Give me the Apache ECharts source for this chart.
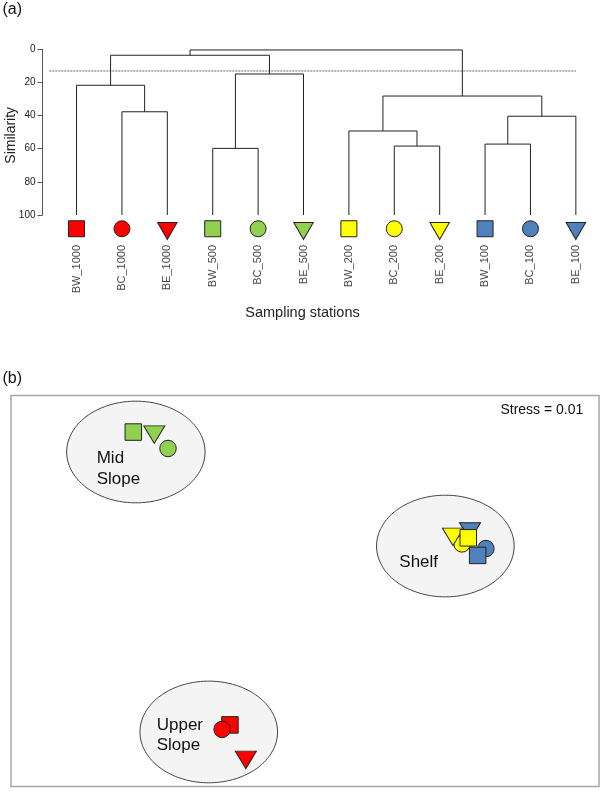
<!DOCTYPE html>
<html>
<head>
<meta charset="utf-8">
<script src="https://cdn.jsdelivr.net/npm/echarts@6/dist/echarts.min.js"></script>
<style>
html,body{margin:0;padding:0;background:#fff;}
#chart{width:603px;height:791px;}
</style>
</head>
<body>
<div id="chart"></div>
<script>
// ---------- Panel (a): dendrogram data ----------
const leafNames = ['BW_1000','BC_1000','BE_1000','BW_500','BC_500','BE_500','BW_200','BC_200','BE_200','BW_100','BC_100','BE_100'];
// linkage: node ids 0..11 are leaves, 12.. are merges in order
const mergeLeft  = [1, 0, 3, 14, 13, 7, 6, 9, 19, 18, 16];
const mergeRight = [2, 12, 4, 5, 15, 8, 17, 10, 11, 20, 21];
const mergeSimilarity = [37.7, 21.7, 59.8, 14.9, 3.6, 58.4, 49.3, 57.2, 40.4, 28.2, 0.4];
const cutSimilarity = 13.1;
const similarityTicks = [0, 20, 40, 60, 80, 100];

// ---------- Panel (b): nMDS data ----------
const mdsNames = ['BW_500','BE_500','BC_500','BW_1000','BC_1000','BE_1000','BE_100','BC_100','BC_200','BE_200','BW_200','BW_100'];
const mdsX = [-0.876,-0.769,-0.699,-0.383,-0.423,-0.302,0.842,0.923,0.801,0.755,0.833,0.881];
const mdsY = [0.813,0.800,0.729,-0.685,-0.708,-0.864,0.304,0.217,0.241,0.277,0.272,0.182];
const groupNames = ['Mid\nSlope','Shelf','Upper\nSlope'];
const groupCx = [-0.863, 0.716, -0.491];
const groupCy = [0.711, 0.230, -0.721];
const groupRx = [0.353, 0.351, 0.351];
const groupRy = [0.260, 0.260, 0.260];
const stressText = 'Stress = 0.01';

// ---------- styling helpers ----------
const FONT = "'Liberation Sans', Arial, Helvetica, sans-serif";
const depthColor = {'1000':'#ff0000','500':'#92d050','200':'#ffff00','100':'#4f81bd'};
function colorOf(name){ return depthColor[name.split('_')[1]]; }
function typeOf(name){ return name.split('_')[0]; }

// dendrogram node positions
const nodeX = [], nodeSim = [];
leafNames.forEach((n,i)=>{ nodeX.push(i+1); nodeSim.push(100); });
const dendroLines = [];
mergeLeft.forEach((a,k)=>{
  const b = mergeRight[k], s = mergeSimilarity[k];
  dendroLines.push({coords:[[nodeX[a],nodeSim[a]],[nodeX[a],s],[nodeX[b],s],[nodeX[b],nodeSim[b]]]});
  nodeX.push((nodeX[a]+nodeX[b])/2); nodeSim.push(s);
});

const LEAF_Y = 108.3, LABEL_Y = 118.1;
function leafItem(name, i){
  const t = typeOf(name);
  const item = {value:[i+1, LEAF_Y], itemStyle:{color:colorOf(name), borderColor:'#222', borderWidth:1, opacity:1}};
  if (t==='BW'){ item.symbol='rect'; item.symbolSize=16; }
  else if (t==='BC'){ item.symbol='circle'; item.symbolSize=16; }
  else { item.symbol='triangle'; item.symbolSize=[19.5,17]; item.symbolRotate=180; item.symbolOffset=[0,2.3]; }
  return item;
}
function mdsItem(name, i){
  const t = typeOf(name);
  const item = {name:name, value:[mdsX[i], mdsY[i]], itemStyle:{color:colorOf(name), borderColor:'#222', borderWidth:1, opacity:1}};
  if (t==='BW'){ item.symbol='rect'; item.symbolSize=16.5; }
  else if (t==='BC'){ item.symbol='circle'; item.symbolSize=16.5; }
  else { item.symbol='triangle'; item.symbolSize=[21,17.5]; item.symbolRotate=180; }
  return item;
}

const chart = echarts.init(document.getElementById('chart'), null, {renderer:'canvas'});
const option = {
  animation:false,
  backgroundColor:'#ffffff',
  textStyle:{fontFamily:FONT},
  grid:[
    {left:42.5, top:49.3, width:544.7, height:165.7, containLabel:false, outerBoundsMode:'none'},
    {left:11, top:395.5, width:588, height:391, show:true, borderColor:'#a6a6a6', borderWidth:1.5, backgroundColor:'transparent', outerBoundsMode:'none'}
  ],
  xAxis:[
    {gridIndex:0, type:'value', min:0.25, max:12.25, show:false},
    {gridIndex:1, type:'value', min:-1.5, max:1.5, show:false}
  ],
  yAxis:[
    {gridIndex:0, type:'value', inverse:true, min:0, max:100, interval:20,
     axisLine:{show:true, lineStyle:{color:'#555', width:1}},
     axisTick:{show:true, inside:false, length:5, lineStyle:{color:'#555'}},
     axisLabel:{fontSize:10, color:'#222', margin:7, fontFamily:FONT,
       formatter:(v)=> similarityTicks.indexOf(v)>=0 ? String(v) : ''},
     splitLine:{show:false}},
    {gridIndex:1, type:'value', min:-1, max:1, show:false}
  ],
  graphic:[
    {type:'text', x:2.5, y:10, style:{text:'(a)', font:'16px '+FONT, fill:'#111', textAlign:'left', textVerticalAlign:'middle'}},
    {type:'text', x:2.5, y:378.7, style:{text:'(b)', font:'16px '+FONT, fill:'#111', textAlign:'left', textVerticalAlign:'middle'}},
    {type:'text', x:11.5, y:135.3, rotation:Math.PI/2, style:{text:'Similarity', font:'14px '+FONT, fill:'#222', textAlign:'center', textVerticalAlign:'middle'}},
    {type:'text', x:302.5, y:313, style:{text:'Sampling stations', font:'14.5px '+FONT, fill:'#222', textAlign:'center', textVerticalAlign:'middle'}},
    {type:'text', x:583.3, y:410, z:10, style:{text:stressText, font:'14px '+FONT, fill:'#111', textAlign:'right', textVerticalAlign:'middle'}},
    {type:'text', x:96.7, y:468.7, z:10, style:{text:groupNames[0], font:'17px '+FONT, lineHeight:21, fill:'#111', textAlign:'left', textVerticalAlign:'middle'}},
    {type:'text', x:399.3, y:562.7, z:10, style:{text:groupNames[1], font:'17px '+FONT, fill:'#111', textAlign:'left', textVerticalAlign:'middle'}},
    {type:'text', x:156.7, y:735, z:10, style:{text:groupNames[2], font:'17px '+FONT, lineHeight:20, fill:'#111', textAlign:'left', textVerticalAlign:'middle'}}
  ],
  series:[
    {type:'lines', coordinateSystem:'cartesian2d', xAxisIndex:0, yAxisIndex:0, polyline:true,
     silent:true, lineStyle:{color:'#222', width:1, opacity:1}, data:dendroLines, z:2},
    {type:'line', xAxisIndex:0, yAxisIndex:0, symbol:'none', silent:true,
     lineStyle:{color:'#666', width:1, type:[2,1]}, data:[[0.4,cutSimilarity],[12,cutSimilarity]], z:1},
    {type:'scatter', xAxisIndex:0, yAxisIndex:0, clip:false, silent:true, z:3,
     data:leafNames.map(leafItem)},
    {type:'scatter', xAxisIndex:0, yAxisIndex:0, clip:false, silent:true, z:3,
     symbolSize:0, data:leafNames.map((n,i)=>({name:n, value:[i+1, LABEL_Y]})),
     label:{show:true, position:'inside', formatter:(p)=>p.name, rotate:90, align:'right', verticalAlign:'middle',
       fontSize:11, color:'#111', fontFamily:FONT}},
    {type:'custom', xAxisIndex:1, yAxisIndex:1, silent:true, z:1,
     data:groupCx.map((c,i)=>[c, groupCy[i], groupRx[i], groupRy[i]]),
     renderItem:function(params, api){
       const cx=api.value(0), cy=api.value(1), rx=api.value(2), ry=api.value(3);
       const pts=[];
       for(let k=0;k<160;k++){ const t=k/160*Math.PI*2; pts.push(api.coord([cx+rx*Math.cos(t), cy+ry*Math.sin(t)])); }
       return {type:'polygon', shape:{points:pts}, style:{fill:'#f4f4f4', stroke:'#444', lineWidth:1}};
     }},
    {type:'scatter', xAxisIndex:1, yAxisIndex:1, clip:false, silent:true, z:3,
     data:mdsNames.map(mdsItem)}
  ]
};
chart.setOption(option);
</script>
</body>
</html>
